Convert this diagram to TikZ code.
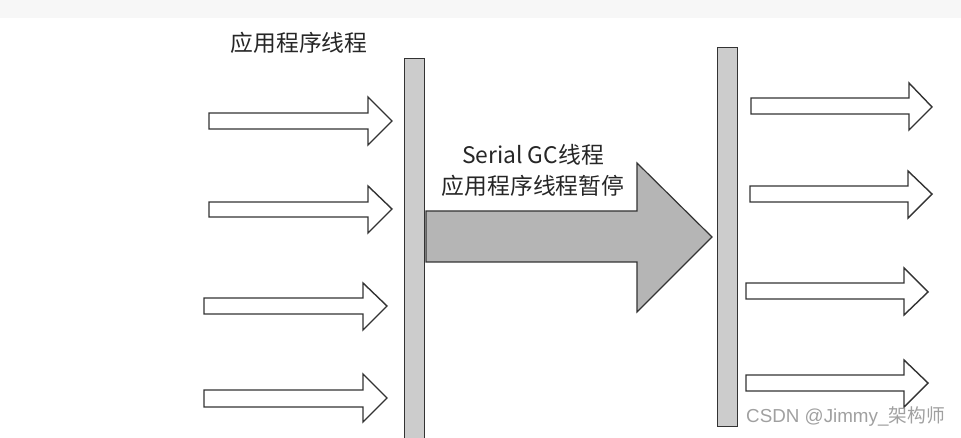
\documentclass[tikz,border=0pt]{standalone}
\usepackage{fontspec}
\setmainfont{Noto Sans CJK SC}
\newfontfamily\cjk{Noto Sans CJK SC}
\newfontfamily\wm{Liberation Sans}
\definecolor{edge}{HTML}{333333}
\definecolor{barfill}{HTML}{CCCCCC}
\definecolor{bigfill}{HTML}{B5B5B5}
\definecolor{band}{HTML}{F7F7F7}
\definecolor{wmgray}{HTML}{A0A0A0}
\tikzset{
  hollow/.style={draw=edge, line width=1.4pt, fill=white, line join=miter},
  barbox/.style={draw=edge, line width=1.4pt, fill=barfill},
  bigarrow/.style={draw=edge, line width=1.2pt, fill=bigfill, line join=miter},
  lbl/.style={font=\fontsize{22.8}{27}\selectfont\cjk, text=black!85, inner sep=0pt}
}
% #1 style, #2 shaft left, #3 shaft top, #4 shaft bottom, #5 head base, #6 head top, #7 head bottom, #8 tip x, #9 tip y
\newcommand\blockarrow[9]{%
  \draw[#1] (#2,#3) -- (#5,#3) -- (#5,#6) -- (#8,#9) -- (#5,#7) -- (#5,#4) -- (#2,#4) -- cycle;}
\begin{document}
\begin{tikzpicture}[x=1pt,y=-1pt]
\useasboundingbox (0,0) rectangle (961,438);
\fill[band] (0,0) rectangle (961,18);
% bars
\node[barbox, minimum width=20pt, minimum height=380pt, inner sep=0pt, anchor=north west] (barL) at (404,58) {};
\node[barbox, minimum width=20pt, minimum height=379pt, inner sep=0pt, anchor=north west] (barR) at (717,47) {};
% left arrows
\blockarrow{hollow}{209}{113}{129}{368}{97}{145}{392}{121}
\blockarrow{hollow}{209}{202}{217}{368}{186}{233}{392}{209}
\blockarrow{hollow}{204}{298}{314}{363}{283}{330}{387}{306}
\blockarrow{hollow}{204}{390}{407}{363}{374}{422}{387}{398}
% right arrows
\blockarrow{hollow}{751}{98}{114}{909}{83}{130}{932}{107}
\blockarrow{hollow}{750}{186}{202}{908}{171}{218}{932}{194}
\blockarrow{hollow}{746}{283}{299}{904}{268}{315}{928}{292}
\blockarrow{hollow}{746}{375}{391}{904}{360}{407}{928}{383}
% big arrow
\blockarrow{bigarrow}{426}{211}{262}{637}{163}{312}{712}{237}
% labels
\node[lbl] (t1) at (299,43) {应用程序线程};
\node[lbl] (t2) at (533,155) {Serial GC线程};
\node[lbl] (t3) at (533,186) {应用程序线程暂停};
\node[anchor=west, inner sep=0pt, text=wmgray, font=\fontsize{18.8}{21}\selectfont] (wm) at (746,417) {\wm CSDN @Jimmy\_\cjk 架构师};
\end{tikzpicture}
\end{document}
